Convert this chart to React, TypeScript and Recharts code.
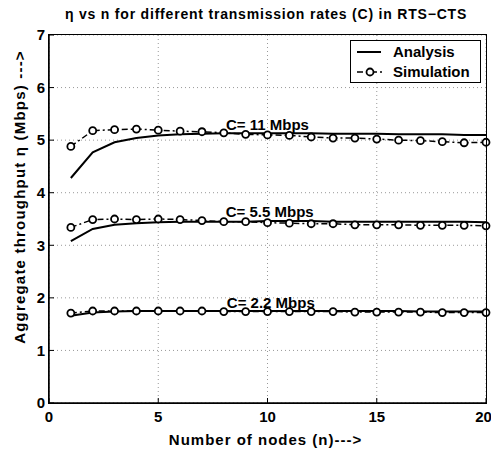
import React from "react";
import {
  LineChart,
  Line,
  XAxis,
  YAxis,
  CartesianGrid,
  Legend,
  ReferenceDot,
  Label,
} from "recharts";

const nodes = [1, 2, 3, 4, 5, 6, 7, 8, 9, 10, 11, 12, 13, 14, 15, 16, 17, 18, 19, 20];

// C = 11 Mbps
const analysis11 = [4.28, 4.77, 4.96, 5.04, 5.09, 5.11, 5.12, 5.13, 5.13, 5.13, 5.13, 5.13, 5.12, 5.12, 5.12, 5.11, 5.11, 5.11, 5.1, 5.1];
const simulation11 = [4.88, 5.18, 5.2, 5.21, 5.19, 5.17, 5.16, 5.14, 5.11, 5.1, 5.09, 5.06, 5.04, 5.04, 5.02, 5.0, 4.99, 4.97, 4.95, 4.96];

// C = 5.5 Mbps
const analysis55 = [3.08, 3.31, 3.39, 3.42, 3.44, 3.45, 3.45, 3.45, 3.45, 3.46, 3.46, 3.46, 3.45, 3.45, 3.45, 3.45, 3.45, 3.45, 3.45, 3.44];
const simulation55 = [3.34, 3.49, 3.5, 3.49, 3.5, 3.49, 3.47, 3.45, 3.45, 3.43, 3.42, 3.41, 3.41, 3.39, 3.39, 3.39, 3.38, 3.38, 3.38, 3.37];

// C = 2.2 Mbps
const analysis22 = [1.66, 1.72, 1.74, 1.75, 1.75, 1.75, 1.75, 1.75, 1.75, 1.75, 1.75, 1.75, 1.75, 1.75, 1.75, 1.75, 1.74, 1.74, 1.74, 1.74];
const simulation22 = [1.71, 1.75, 1.75, 1.75, 1.75, 1.75, 1.75, 1.74, 1.74, 1.74, 1.74, 1.74, 1.74, 1.73, 1.73, 1.73, 1.73, 1.72, 1.72, 1.72];

const xTicks = [0, 5, 10, 15, 20];
const yTicks = [0, 1, 2, 3, 4, 5, 6, 7];

const rateTexts = ["C= 11 Mbps", "C= 5.5 Mbps", "C= 2.2 Mbps"];
const rateTextN = [10.0, 10.1, 10.15];
const rateTextEta = [5.29, 3.64, 1.91];

const data = nodes.map((n, i) => ({
  n,
  a11: analysis11[i],
  s11: simulation11[i],
  a55: analysis55[i],
  s55: simulation55[i],
  a22: analysis22[i],
  s22: simulation22[i],
}));

const FONT = "Liberation Sans, Arial, Helvetica, sans-serif";
const DASH = "6 3 2 3";

const simDot = { r: 3.5, fill: "#fff", stroke: "#000", strokeWidth: 1.8, strokeDasharray: "0" };

function LegendBox() {
  return (
    <div
      style={{
        width: 131,
        height: 43,
        border: "1.5px solid #000",
        background: "#fff",
        boxSizing: "border-box",
      }}
    >
      <svg width={128} height={40} style={{ display: "block" }}>
        <line x1={6} x2={30} y1={11} y2={11} stroke="#000" strokeWidth={2} />
        <text x={42} y={16} fontFamily={FONT} fontWeight="bold" fontSize={15}>
          Analysis
        </text>
        <line x1={6} x2={32} y1={31} y2={31} stroke="#000" strokeWidth={1.5} strokeDasharray={DASH} />
        <circle cx={19} cy={31} r={3.5} fill="#fff" stroke="#000" strokeWidth={1.8} />
        <text x={42} y={36} fontFamily={FONT} fontWeight="bold" fontSize={15}>
          Simulation
        </text>
      </svg>
    </div>
  );
}

export default function App() {
  const tickStyle = { fill: "#000", fontFamily: FONT, fontWeight: "bold", fontSize: 15 };
  return (
    <div style={{ position: "absolute", left: 0, top: 0, width: 491, height: 453, overflow: "hidden", background: "#fff" }}>
      <LineChart
        width={491}
        height={453}
        data={data}
        margin={{ top: 35, right: 5, left: 19, bottom: 20 }}
      >
        <text
          x={266}
          y={19}
          textAnchor="middle"
          fontFamily={FONT}
          fontWeight="bold"
          fontSize={14}
          letterSpacing={0.8}
        >
          η vs n for different transmission rates (C) in RTS−CTS
        </text>

        <CartesianGrid stroke="#999" strokeDasharray="1 3" />

        <XAxis
          dataKey="n"
          type="number"
          domain={[0, 20]}
          ticks={xTicks}
          height={30}
          tickSize={-5}
          tickMargin={13}
          tick={tickStyle}
          axisLine={{ stroke: "#000", strokeWidth: 1.5 }}
          tickLine={{ stroke: "#000" }}
        >
          <Label
            content={({ viewBox }: any) => (
              <text
                x={viewBox.x + viewBox.width / 2 - 2}
                y={viewBox.y + 42}
                textAnchor="middle"
                fontFamily={FONT}
                fontWeight="bold"
                fontSize={15}
                letterSpacing={1}
              >
                Number of nodes (n)---&gt;
              </text>
            )}
          />
        </XAxis>
        <YAxis
          type="number"
          domain={[0, 7]}
          ticks={yTicks}
          width={30}
          tickSize={-5}
          tickMargin={9}
          tick={tickStyle}
          axisLine={{ stroke: "#000", strokeWidth: 1.5 }}
          tickLine={{ stroke: "#000" }}
        >
          <Label
            content={({ viewBox }: any) => (
              <text
                x={0}
                y={0}
                transform={`translate(${viewBox.x + 6}, ${viewBox.y + 162}) rotate(-90)`}
                textAnchor="middle"
                fontFamily={FONT}
                fontWeight="bold"
                fontSize={15}
                letterSpacing={1.2}
              >
                Aggregate throughput η (Mbps) ---&gt;
              </text>
            )}
          />
        </YAxis>

        <Line dataKey="a11" stroke="#000" strokeWidth={2} dot={false} isAnimationActive={false} />
        <Line dataKey="s11" stroke="#000" strokeWidth={1.5} strokeDasharray={DASH} dot={simDot} isAnimationActive={false} />
        <Line dataKey="a55" stroke="#000" strokeWidth={2} dot={false} isAnimationActive={false} />
        <Line dataKey="s55" stroke="#000" strokeWidth={1.5} strokeDasharray={DASH} dot={simDot} isAnimationActive={false} />
        <Line dataKey="a22" stroke="#000" strokeWidth={2} dot={false} isAnimationActive={false} />
        <Line dataKey="s22" stroke="#000" strokeWidth={1.5} strokeDasharray={DASH} dot={simDot} isAnimationActive={false} />

        {rateTexts.map((t, i) => (
          <ReferenceDot
            key={t}
            x={rateTextN[i]}
            y={rateTextEta[i]}
            r={0}
            fill="none"
            stroke="none"
            label={{
              value: t,
              position: "center",
              fill: "#000",
              fontFamily: FONT,
              fontWeight: "bold",
              fontSize: 15,
            }}
          />
        ))}

        <Legend
          layout="vertical"
          align="center"
          verticalAlign="middle"
          content={<LegendBox />}
          wrapperStyle={{ top: 40, left: 350, width: 131, height: 43 }}
        />
      </LineChart>
      {/* plot frame */}
      <div
        style={{
          position: "absolute",
          left: 48,
          top: 34,
          width: 439,
          height: 370,
          border: "1.5px solid #000",
          boxSizing: "border-box",
          pointerEvents: "none",
        }}
      />
    </div>
  );
}
